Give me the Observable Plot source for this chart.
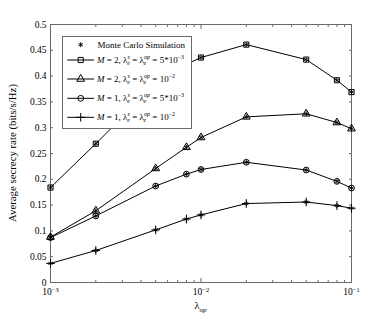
<!DOCTYPE html>
<html><head><meta charset="utf-8">
<script src="https://cdn.jsdelivr.net/npm/d3@7"></script>
<script src="https://cdn.jsdelivr.net/npm/@observablehq/plot@0.6"></script>
<style>body{margin:0;background:#fff} svg{font-family:"Liberation Serif",serif}</style>
</head><body><div id="chart"></div>
<script>
// Data
const lambdaOp = [0.001, 0.002, 0.005, 0.008, 0.01, 0.02, 0.05, 0.08, 0.1];
const seriesNames = ["M=2, 5e-3", "M=2, 1e-2", "M=1, 5e-3", "M=1, 1e-2"];
const seriesSymbols = ["square", "triangle", "circle", "plus"];
const rateM2a = [0.184, 0.269, 0.385, 0.423, 0.436, 0.461, 0.432, 0.392, 0.369];
const rateM2b = [0.088, 0.139, 0.221, 0.262, 0.281, 0.321, 0.327, 0.310, 0.298];
const rateM1a = [0.087, 0.129, 0.187, 0.210, 0.219, 0.233, 0.218, 0.196, 0.183];
const rateM1b = [0.037, 0.062, 0.102, 0.123, 0.131, 0.153, 0.156, 0.149, 0.144];
const yTicks = [0, 0.05, 0.1, 0.15, 0.2, 0.25, 0.3, 0.35, 0.4, 0.45, 0.5];
const xMajorTicks = [0.001, 0.01, 0.1];
const xMinorTicks = [0.002, 0.003, 0.004, 0.005, 0.006, 0.007, 0.008, 0.009,
                     0.02, 0.03, 0.04, 0.05, 0.06, 0.07, 0.08, 0.09];
const xTickLabels = ["10^-3", "10^-2", "10^-1"];

const allRates = [rateM2a, rateM2b, rateM1a, rateM1b];
const data = [];
allRates.forEach((arr, i) => arr.forEach((v, j) => data.push({series: seriesNames[i], x: lambdaOp[j], y: v})));

const frameColor = "#6a6a6a";
const W = 388, H = 318;
const mL = 50, mR = 37, mT = 24, mB = 36;

const chart = Plot.plot({
  width: W, height: H,
  marginLeft: mL, marginRight: mR, marginTop: mT, marginBottom: mB,
  style: {fontFamily: "Liberation Serif", fontSize: "9.5px", background: "#fff"},
  x: {type: "log", domain: [0.001, 0.1]},
  y: {domain: [0, 0.5]},
  symbol: {domain: seriesNames, range: seriesSymbols},
  marks: [
    Plot.axisY({ticks: yTicks, tickSize: -3, tickPadding: 7, stroke: frameColor, color: "#000",
      tickFormat: d => String(d), label: null}),
    Plot.axisY({anchor: "right", ticks: yTicks, tickSize: -3, stroke: frameColor, tickFormat: () => "", label: null}),
    Plot.axisX({ticks: xMajorTicks, tickSize: -4, tickPadding: 10, stroke: frameColor,
      tickFormat: d => xTickLabels[xMajorTicks.indexOf(d)], label: null}),
    Plot.axisX({ticks: xMinorTicks, tickSize: -2, stroke: frameColor, tickFormat: () => "", label: null}),
    Plot.axisX({anchor: "top", ticks: xMajorTicks, tickSize: -4, stroke: frameColor, tickFormat: () => "", label: null}),
    Plot.axisX({anchor: "top", ticks: xMinorTicks, tickSize: -2, stroke: frameColor, tickFormat: () => "", label: null}),
    Plot.frame({stroke: frameColor}),
    Plot.line(data, {x: "x", y: "y", z: "series", stroke: "#000", strokeWidth: 1}),
    Plot.dot(data, {x: "x", y: "y", symbol: "series", r: 2.9, stroke: "#000", fill: "none", strokeWidth: 1}),
    Plot.dot(data, {x: "x", y: "y", symbol: "asterisk", r: 2.3, stroke: "#000", strokeWidth: 0.9})
  ]
});
document.getElementById("chart").appendChild(chart);

const svg = d3.select(chart);

// superscript tick labels for x axis
svg.selectAll("text").each(function() {
  const t = d3.select(this);
  const s = t.text();
  if (/^10\^-\d$/.test(s)) {
    const exp = s.split("^")[1].replace("-", "\u2212");
    t.text("");
    t.append("tspan").text("10");
    t.append("tspan").attr("dy", "-0.5em").attr("font-size", "6.5px").text(exp);
  }
});

// axis titles
svg.append("text")
  .attr("transform", `translate(16,${(mT + H - mB) / 2}) rotate(-90)`)
  .attr("text-anchor", "middle").attr("font-size", "10.8px").attr("fill", "#000")
  .text("Average secrecy rate (bits/s/Hz)");
const xl = svg.append("text").attr("x", (mL + W - mR) / 2).attr("y", 309)
  .attr("text-anchor", "middle").attr("font-size", "10.5px").attr("fill", "#000");
xl.append("tspan").text("λ");
xl.append("tspan").attr("dy", "2.5").attr("font-size", "7px").attr("font-style", "italic").text("op");

// legend
const lg = svg.append("g").attr("text-anchor", "start");
lg.append("rect").attr("x", 62.5).attr("y", 36.5).attr("width", 129).attr("height", 92)
  .attr("fill", "#fff").attr("stroke", frameColor);
const rowY = [44.7, 60, 79, 98.3, 117.3];
const symMap = {square: d3.symbolSquare, triangle: d3.symbolTriangle, circle: d3.symbolCircle, plus: d3.symbolPlus, asterisk: d3.symbolAsterisk};
function legSym(x, y, name, r) {
  lg.append("path").attr("transform", `translate(${x},${y})`)
    .attr("d", d3.symbol(symMap[name], Math.PI * r * r)())
    .attr("fill", "none").attr("stroke", "#000").attr("stroke-width", 1);
}
legSym(80.7, rowY[0], "asterisk", 2.3);
lg.append("text").attr("x", 97.5).attr("y", rowY[0] + 3.2).attr("font-size", "9px").attr("text-anchor", "start").text("Monte Carlo Simulation");
const legM = ["2", "2", "1", "1"];
const legVal = [["5*10", "\u22123"], ["10", "\u22122"], ["5*10", "\u22123"], ["10", "\u22122"]];
for (let i = 0; i < 4; i++) {
  const y = rowY[i + 1];
  lg.append("line").attr("x1", 67.3).attr("x2", 94).attr("y1", y).attr("y2", y).attr("stroke", "#000");
  legSym(80.7, y, seriesSymbols[i], 2.9);
  const t = lg.append("text").attr("x", 97).attr("y", y + 3).attr("font-size", "9px").attr("text-anchor", "start");
  t.append("tspan").attr("font-style", "italic").text("M");
  t.append("tspan").text(` = ${legM[i]}, λ`);
  t.append("tspan").attr("font-size", "6px").attr("font-style", "italic").attr("dy", -4).text("s");
  t.append("tspan").attr("font-size", "6px").attr("font-style", "italic").attr("dx", -2.5).attr("dy", 6).text("e");
  t.append("tspan").attr("dy", -2).text(" = λ");
  t.append("tspan").attr("font-size", "6px").attr("font-style", "italic").attr("dy", -4).text("op");
  t.append("tspan").attr("font-size", "6px").attr("font-style", "italic").attr("dx", -6.5).attr("dy", 6).text("e");
  t.append("tspan").attr("dx", 4).attr("dy", -2).text(` = ${legVal[i][0]}`);
  t.append("tspan").attr("font-size", "6px").attr("dy", -4).text(legVal[i][1]);
}
</script>
</body></html>
